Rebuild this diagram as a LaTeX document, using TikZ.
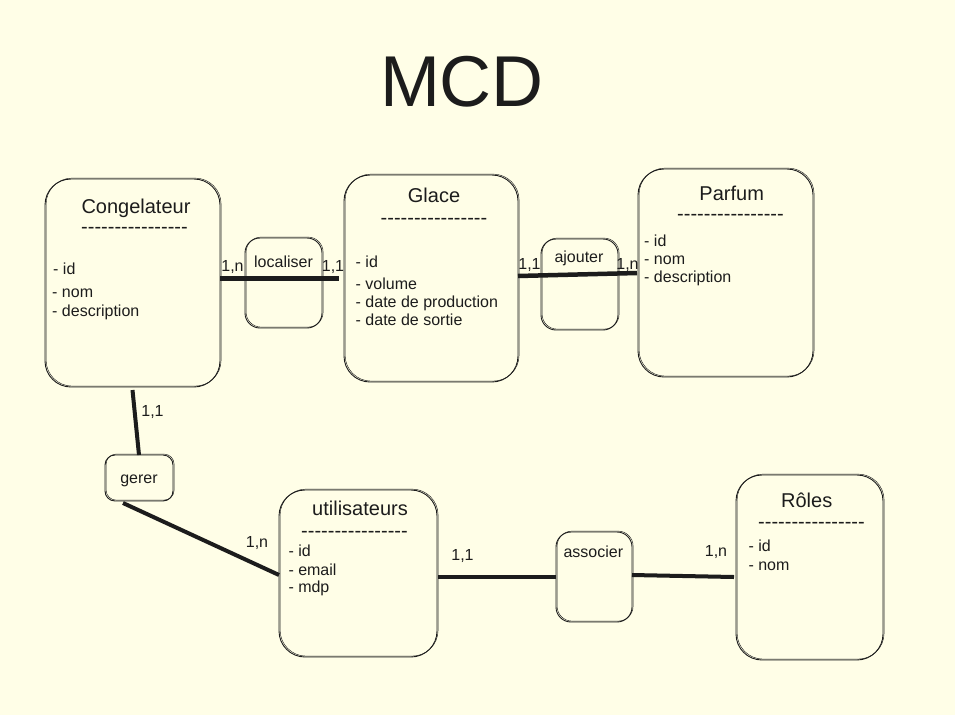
\documentclass[tikz,border=0pt]{standalone}
\usepackage{fontspec}
\setmainfont{Liberation Sans}[Ligatures=TeXOff]
\definecolor{bg}{HTML}{FFFEE7}
\definecolor{ink}{HTML}{1C1C1C}
\begin{document}
\begin{tikzpicture}[x=1pt,y=-1pt,
  sketch/.style={draw=ink, line width=0.9pt, inner sep=0pt, outer sep=0pt,
    postaction={draw=ink, line width=0.45pt, transform canvas={shift={(1.1pt,0.9pt)}}}},
  ent/.style={sketch, rounded corners=26pt},
  rel/.style={sketch, rounded corners=15pt},
  relsm/.style={sketch, rounded corners=10pt},
  ttl/.style={inner sep=0pt, anchor=base, text=ink, font=\fontsize{20}{24}\selectfont},
  dsh/.style={inner sep=0pt, anchor=base, text=ink, font=\fontsize{20}{24}\selectfont},
  att/.style={inner sep=0pt, anchor=base west, text=ink, font=\fontsize{16}{19}\selectfont},
  lbl/.style={inner sep=0pt, anchor=base, text=ink, font=\fontsize{16}{19}\selectfont},
  conn/.style={draw=ink, line width=4.5pt, line cap=butt}
]
\fill[bg] (0,0) rectangle (955,715);
\useasboundingbox (0,0) rectangle (955,715);

% title
\node[inner sep=0pt, anchor=base, text=ink, font=\fontsize{72}{80}\selectfont] (mcd) at (462,106) {MCD};

% entity and relation boxes
\node[ent, minimum width=175pt, minimum height=208pt] (cong) at (132.5,283) {};
\node[rel, minimum width=77pt, minimum height=90pt] (loc) at (283.5,283) {};
\node[ent, minimum width=174pt, minimum height=207pt] (glace) at (431,278.5) {};
\node[rel, minimum width=77pt, minimum height=91pt] (ajout) at (579.5,284.5) {};
\node[ent, minimum width=175pt, minimum height=208pt] (parfum) at (725.5,273) {};
\node[relsm, minimum width=68pt, minimum height=46pt] (gerer) at (139,478) {};
\node[ent, minimum width=158pt, minimum height=167pt] (util) at (358,573.5) {};
\node[rel, minimum width=76pt, minimum height=90pt] (assoc) at (594,577) {};
\node[ent, minimum width=147pt, minimum height=185pt] (roles) at (809.5,567.5) {};

% Congelateur
\node[ttl] (congT) at (136,213) {Congelateur};
\node[dsh] (congD) at (134.5,233.5) {----------------};
\node[att] (congA1) at (53,274.3) {- id};
\node[att] (congA2) at (52,297.7) {- nom};
\node[att] (congA3) at (52,316) {- description};

% localiser
\node[lbl] (locT) at (283.5,267.3) {localiser};

% Glace
\node[ttl] (glaceT) at (434,202.3) {Glace};
\node[dsh] (glaceD) at (434,224.5) {----------------};
\node[att] (glaceA1) at (355.5,267.7) {- id};
\node[att] (glaceA2) at (355.5,289.3) {- volume};
\node[att] (glaceA3) at (355.5,307.3) {- date de production};
\node[att] (glaceA4) at (355.5,325.7) {- date de sortie};

% ajouter
\node[lbl] (ajoutT) at (579,262.3) {ajouter};

% Parfum
\node[ttl] (parfumT) at (731.7,200) {Parfum};
\node[dsh] (parfumD) at (730.5,220.5) {----------------};
\node[att] (parfumA1) at (644,246) {- id};
\node[att] (parfumA2) at (644,264.3) {- nom};
\node[att] (parfumA3) at (644,282.3) {- description};

% gerer
\node[lbl] (gererT) at (139,483.3) {gerer};

% utilisateurs
\node[ttl] (utilT) at (360,515.7) {utilisateurs};
\node[dsh] (utilD) at (354.5,537) {----------------};
\node[att] (utilA1) at (288.3,556.7) {- id};
\node[att] (utilA2) at (288.3,575) {- email};
\node[att] (utilA3) at (288.3,592.3) {- mdp};

% associer
\node[lbl] (assocT) at (593.3,557.7) {associer};

% Roles
\node[ttl] (rolesT) at (806.7,507.3) {Rôles};
\node[dsh] (rolesD) at (811.5,528.8) {----------------};
\node[att] (rolesA1) at (748.3,551.7) {- id};
\node[att] (rolesA2) at (748.3,570.7) {- nom};

% connectors
\draw[conn] (cong.east |- glace.west) -- ([xshift=-5pt]glace.west);
\draw[conn] ([yshift=2.5pt]glace.east) -- ([xshift=-1pt]parfum.west);
\draw[conn, line width=4pt] ([yshift=-3pt]cong.south) -- (gerer.north);
\draw[conn, line width=4pt] ([xshift=18pt,yshift=-2pt]gerer.south west) -- ([yshift=-1.5pt]util.west);
\draw[conn] ([xshift=1pt]util.east |- assoc.west) -- (assoc.west);
\draw[conn, line width=4pt] ([yshift=2pt]assoc.east) -- ([xshift=-2pt]assoc.east -| roles.west);

% cardinalities
\node[lbl] (c1) at (232.5,271.7) {1,n};
\node[lbl] (c2) at (333,271.7) {1,1};
\node[lbl] (c3) at (529.5,269) {1,1};
\node[lbl] (c4) at (627.5,269) {1,n};
\node[lbl] (c5) at (152.5,416) {1,1};
\node[lbl] (c6) at (257,547.7) {1,n};
\node[lbl] (c7) at (462.5,560.7) {1,1};
\node[lbl] (c8) at (716,556.7) {1,n};
\end{tikzpicture}
\end{document}
